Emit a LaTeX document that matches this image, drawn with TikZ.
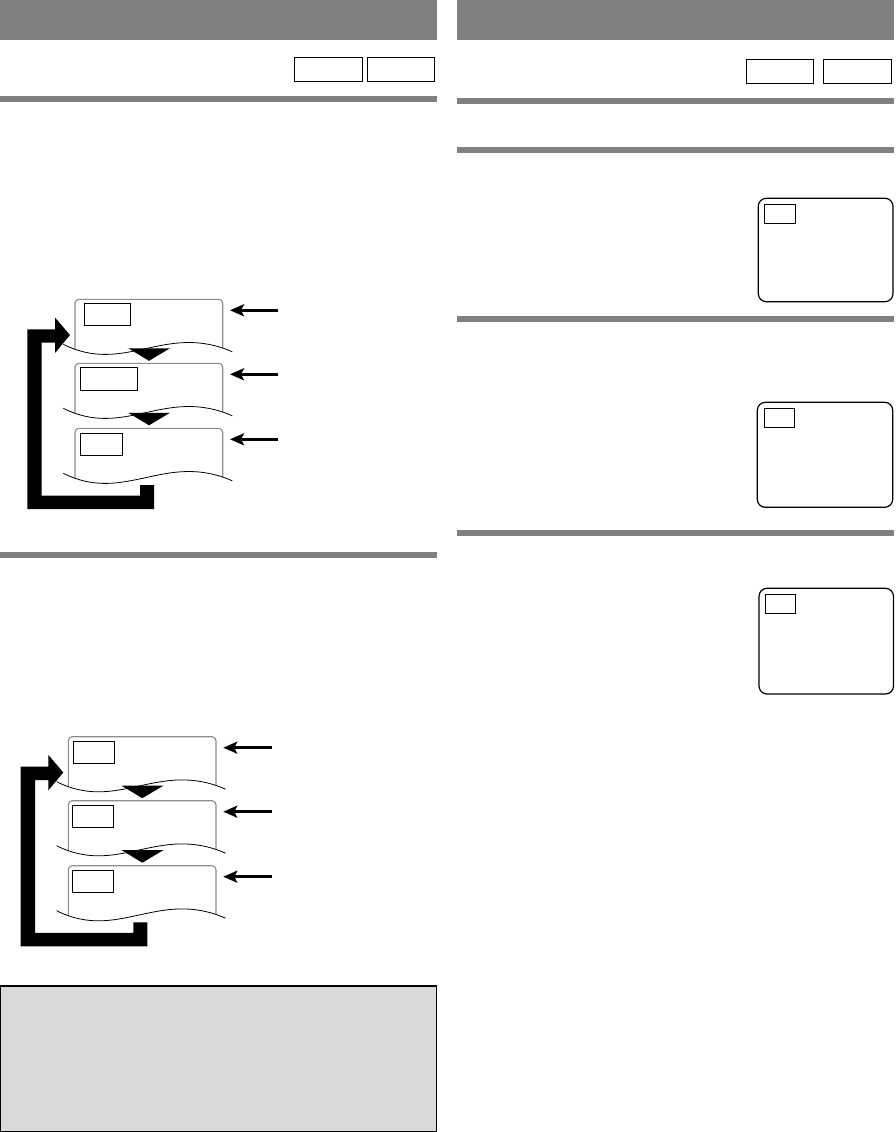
\documentclass[tikz,border=0pt]{standalone}
\usetikzlibrary{arrows.meta}
\definecolor{hdrgray}{HTML}{808080}
\definecolor{framegray}{HTML}{8C8C8C}
\definecolor{notegray}{HTML}{D9D9D9}
\newcommand\scrn[6]{%
  \begin{scope}
    \clip (63.3,#2-5) -- (63.3,#2+45) .. controls (125,#2+76) and (165,#2+23) .. (232.3,#2+52.5) -- (232.3,#2-5) -- cycle;
    \draw[frame] (75,#2+62) -- (75,#2) -- (222.7,#2) -- (222.7,#2+62);
  \end{scope}
  \draw[wave] (63.3,#2+45) .. controls (125,#2+76) and (165,#2+23) .. (232.3,#2+52.5);
  \draw[tvtag] (#3,#5) rectangle (#4,#6);
  \coordinate (#1s) at (278.3,#2+11);
  \coordinate (#1e) at (230,#2+11);
  \draw[sidearrow] (#1s) -- (#1e);
}
\newcommand\downtri[1]{%
  \fill (128.3,#1+49) -- (170,#1+49) -- (149,#1+61.5) -- cycle;
}
\newcommand\looparrow{%
  \fill (27.3,509) -- (154,509) -- (154,485) -- (140,485) -- (140,495.5) -- (41.7,495.5)
        -- (41.7,342.7) -- (55,342.7) -- (55,353) -- (70,335) -- (55,317.5) -- (55,329.3)
        -- (27.3,329.3) -- cycle;
}
\begin{document}
\begin{tikzpicture}[x=1pt,y=-1pt,
  hdr/.style={fill=hdrgray, draw=none},
  rulebar/.style={fill=hdrgray, draw=none},
  tagbox/.style={draw=black, line width=1.3pt},
  tvbox/.style={draw=black, line width=1.2pt, rounded corners=8pt},
  tvtag/.style={draw=black, line width=1pt},
  frame/.style={draw=framegray, line width=1.1pt, rounded corners=4pt},
  wave/.style={draw=black, line width=0.8pt},
  sidearrow/.style={line width=2.6pt, -{Stealth[length=14pt,width=12pt,inset=3pt]}},
  notebox/.style={fill=notegray, draw=black, line width=1.3pt}
]
\useasboundingbox (0,0) rectangle (895,1132);
% left column
\fill[hdr] (0,0) rectangle (437,40);
\draw[tagbox] (294.3,57.3) rectangle (362.3,81.3);
\draw[tagbox] (367.3,57.3) rectangle (434.7,81.3);
\fill[rulebar] (0,96) rectangle (437,101.7);
% diagram 1
\scrn{a}{299.3}{84.3}{130.3}{303.3}{325.3}
\scrn{b}{363.3}{80.3}{137.7}{367.3}{390}
\scrn{c}{428.3}{80.3}{122.7}{433.3}{455.3}
\downtri{299.3}
\downtri{363.8}
\looparrow
\fill[rulebar] (0,552) rectangle (437,557.7);
% diagram 2
\begin{scope}[shift={(-6.7,437.4)}]
\scrn{d}{299.3}{80}{121}{304.3}{325.9}
\scrn{e}{363.3}{79}{120.4}{368.3}{389.9}
\scrn{f}{428.3}{79}{119.7}{433.3}{454.9}
\downtri{299.3}
\downtri{363.8}
\looparrow
\end{scope}
% note box
\draw[notebox] (0.6,986) rectangle (436.4,1131.3);
% right column
\fill[hdr] (457,0) rectangle (893.5,40);
\draw[tagbox] (746.3,59.3) rectangle (813.7,83.3);
\draw[tagbox] (823.3,59.3) rectangle (891.7,83.3);
\fill[rulebar] (457,98) rectangle (894,103.7);
\fill[rulebar] (457,147) rectangle (894,152.7);
\draw[tvbox] (758.3,198.3) rectangle (893,301.7);
\draw[tvtag] (764.3,204.3) rectangle (795.3,223.3);
\fill[rulebar] (457,316) rectangle (894,322);
\draw[tvbox] (757.3,402.3) rectangle (892.7,507.3);
\draw[tvtag] (764,408.3) rectangle (794.3,427.3);
\fill[rulebar] (457,530) rectangle (894,536);
\draw[tvbox] (759,588.3) rectangle (893.5,694);
\draw[tvtag] (765,594) rectangle (795.7,613.7);
\end{tikzpicture}
\end{document}
